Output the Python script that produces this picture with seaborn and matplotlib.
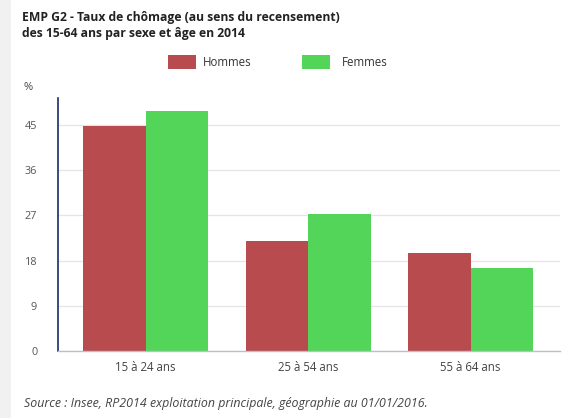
import matplotlib
matplotlib.use("Agg")
import matplotlib.pyplot as plt
import matplotlib.patches as mpatches
import pandas as pd
import seaborn as sns

ages = ["15 à 24 ans", "25 à 54 ans", "55 à 64 ans"]
hommes = [44.8, 21.9, 19.6]
femmes = [47.8, 27.3, 16.6]
sexes = ["Hommes", "Femmes"]
yticks = [0, 9, 18, 27, 36, 45]
colors = {"Hommes": "#b84b4e", "Femmes": "#53d55a"}

df = pd.DataFrame({
    "age": ages * 2,
    "sexe": ["Hommes"] * 3 + ["Femmes"] * 3,
    "taux": hommes + femmes,
})

sns.set_style("white")
plt.rcParams["font.family"] = ["Open Sans", "DejaVu Sans"]

W, H = 585, 418
fig = plt.figure(figsize=(W / 100, H / 100), dpi=100)
fig.patch.set_facecolor("#f1f1f1")
fig.add_artist(mpatches.Rectangle((11 / W, 0), 1, 1, transform=fig.transFigure,
                                  facecolor="white", edgecolor="none", zorder=0))

ax = fig.add_axes([58 / W, (H - 351) / H, (560 - 58) / W, (351 - 98) / H])
ax.set_facecolor("none")
sns.barplot(data=df, x="age", y="taux", hue="sexe", hue_order=sexes,
            palette=colors, width=0.77, saturation=1, linewidth=0,
            ax=ax, legend=False)

ax.set_ylim(0, 50.4)
ax.set_xlim(-0.54, 2.55)
ax.set_yticks(yticks)
ax.set_yticklabels([str(t) for t in yticks], fontsize=7.8, color="#555555")
ax.tick_params(axis="x", labelsize=8.3, colors="#444444", length=0, pad=7)
ax.tick_params(axis="y", length=0, pad=15)
ax.set_xlabel("")
ax.set_ylabel("")
ax.yaxis.grid(True, color="#e4e4e4", linewidth=0.9)
ax.set_axisbelow(True)
for s in ["top", "right"]:
    ax.spines[s].set_visible(False)
ax.spines["left"].set_color("#1f2a6b")
ax.spines["left"].set_linewidth(1.2)
ax.spines["bottom"].set_color("#b7bfd6")
ax.spines["bottom"].set_linewidth(1.0)

fig.text(22 / W, 1 - 18 / H, "EMP G2 - Taux de chômage (au sens du recensement)",
         fontsize=8.7, fontweight="bold", color="#222222", va="center")
fig.text(22 / W, 1 - 34 / H, "des 15-64 ans par sexe et âge en 2014",
         fontsize=8.7, fontweight="bold", color="#222222", va="center")

# legend
for x0, xt, lab in [(168, 203, "Hommes"), (302, 342, "Femmes")]:
    fig.add_artist(mpatches.Rectangle((x0 / W, 1 - 69 / H), 28 / W, 14 / H,
                                      transform=fig.transFigure,
                                      facecolor=colors[lab], edgecolor="none"))
    fig.text(xt / W, 1 - 62 / H, lab, fontsize=8.3, color="#333333",
             va="center")

fig.text(24 / W, 1 - 88 / H, "%", fontsize=8, color="#444444", va="center")
fig.text(24 / W, 1 - 404 / H,
         "Source : Insee, RP2014 exploitation principale, géographie au 01/01/2016.",
         fontsize=8.9, style="italic", color="#444444", va="center")

fig.savefig("out.png", dpi=100, facecolor=fig.get_facecolor())
